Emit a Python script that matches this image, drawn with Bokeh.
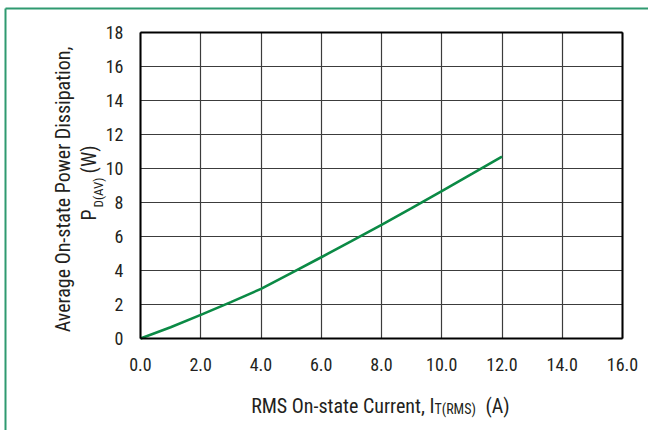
import math
from bokeh.plotting import figure
from bokeh.models import (Label, FixedTicker, NumeralTickFormatter, Range1d,
                          LinearAxis, Grid)
from bokeh.embed import file_html
from bokeh.resources import INLINE

# ---- data ----
current_a = [0.0, 1.0, 2.0, 3.0, 4.0, 5.0, 6.0, 7.0, 8.0, 9.0, 10.0, 11.0, 12.0]
power_w = [0.0, 0.66, 1.39, 2.14, 2.92, 3.85, 4.78, 5.73, 6.69, 7.67, 8.67, 9.68, 10.7]
x_ticks = [0, 2, 4, 6, 8, 10, 12, 14, 16]
y_ticks = [0, 2, 4, 6, 8, 10, 12, 14, 16, 18]
x_lim = (0, 16)
y_lim = (0, 18)

FONT = "Roboto Condensed"
GREEN = "#0b8a45"
BORDER = "#2f9a70"
TXT = "#231f20"

# ---- layout (canvas pixels) ----
W, H = 648, 430
PX_L, PX_R, PX_T, PX_B = 140, 622, 32, 338
sx = (PX_R - PX_L) / (x_lim[1] - x_lim[0])
sy = (PX_B - PX_T) / (y_lim[1] - y_lim[0])

def dx(px):
    return x_lim[0] + (px - PX_L) / sx

def dy(py):
    return y_lim[0] + (PX_B - py) / sy

p = figure(width=W, height=H, output_backend="svg", toolbar_location=None,
           x_range=Range1d(dx(0), dx(W)), y_range=Range1d(dy(H), dy(0)),
           x_axis_location=None, y_axis_location=None,
           min_border=0, min_border_left=0, min_border_right=0,
           min_border_top=0, min_border_bottom=0)
p.center = []
p.outline_line_color = None
p.background_fill_color = "white"
p.border_fill_color = "white"

# ---- grid lines restricted to the plot box ----
has_cross = "cross_bounds" in Grid.properties()
for dim, ticks, b, cb in ((0, x_ticks, x_lim, y_lim), (1, y_ticks, y_lim, x_lim)):
    g = Grid(dimension=dim, ticker=FixedTicker(ticks=ticks), bounds=b,
             grid_line_color="#3c3c3c", grid_line_width=1.2)
    if has_cross:
        g.cross_bounds = cb
        p.add_layout(g, "center")
if not has_cross:
    p.segment(x0=x_ticks, y0=[y_lim[0]] * len(x_ticks), x1=x_ticks, y1=[y_lim[1]] * len(x_ticks),
              line_color="#3c3c3c", line_width=1.2)
    p.segment(x0=[x_lim[0]] * len(y_ticks), y0=y_ticks, x1=[x_lim[1]] * len(y_ticks), y1=y_ticks,
              line_color="#3c3c3c", line_width=1.2)

# ---- curve ----
p.line(current_a, power_w, line_color=GREEN, line_width=2.6)

# ---- axes ----
def plain_axis(loc, bounds, color="black", width=2):
    return LinearAxis(fixed_location=loc, bounds=bounds, ticker=FixedTicker(ticks=[]),
                      axis_line_color=color, axis_line_width=width,
                      major_tick_in=0, major_tick_out=0, minor_tick_in=0, minor_tick_out=0,
                      major_label_text_alpha=0)

xaxis = LinearAxis(fixed_location=y_lim[0], bounds=x_lim, ticker=FixedTicker(ticks=x_ticks),
                   formatter=NumeralTickFormatter(format="0.0"))
yaxis = LinearAxis(fixed_location=x_lim[0], bounds=y_lim, ticker=FixedTicker(ticks=y_ticks),
                   formatter=NumeralTickFormatter(format="0"))
for ax in (xaxis, yaxis):
    ax.major_tick_out = 0
    ax.major_tick_in = 0
    ax.minor_tick_out = 0
    ax.minor_tick_in = 0
    ax.axis_line_color = "black"
    ax.axis_line_width = 2
    ax.major_label_text_font = FONT
    ax.major_label_text_font_size = "18px"
    ax.major_label_text_color = TXT
xaxis.major_label_standoff = 19
yaxis.major_label_standoff = 17
p.add_layout(xaxis, "below")
p.add_layout(yaxis, "left")
p.add_layout(plain_axis(y_lim[1], x_lim), "above")
p.add_layout(plain_axis(x_lim[1], y_lim), "right")

# green frame of the figure (left and top edges)
p.add_layout(plain_axis(dx(5), (dy(H), dy(7.5)), BORDER, 2), "left")
p.add_layout(plain_axis(dy(7.5), (dx(5), dx(W)), BORDER, 2), "above")

# ---- axis titles with subscripts ----
def lab(text, px, py, size, align="left", angle=0.0):
    p.add_layout(Label(x=dx(px), y=dy(py), text=text, text_font=FONT,
                       text_font_size=size, text_color=TXT, text_align=align,
                       text_baseline="alphabetic", angle=angle))

lab("RMS On-state Current, I", 434, 405, "20px", align="right")
lab("T(RMS)", 434, 408, "14px")
lab("(A)", 485, 405, "20px")

up = math.pi / 2
lab("Average On-state Power Dissipation,", 62, 189, "20px", align="center", angle=up)
lab("P", 88, 220, "20px", angle=up)
lab("D(AV)", 98, 207, "13px", angle=up)
lab("(W)", 88, 173, "20px", angle=up)

open("out.html", "w").write(file_html(p, INLINE))
